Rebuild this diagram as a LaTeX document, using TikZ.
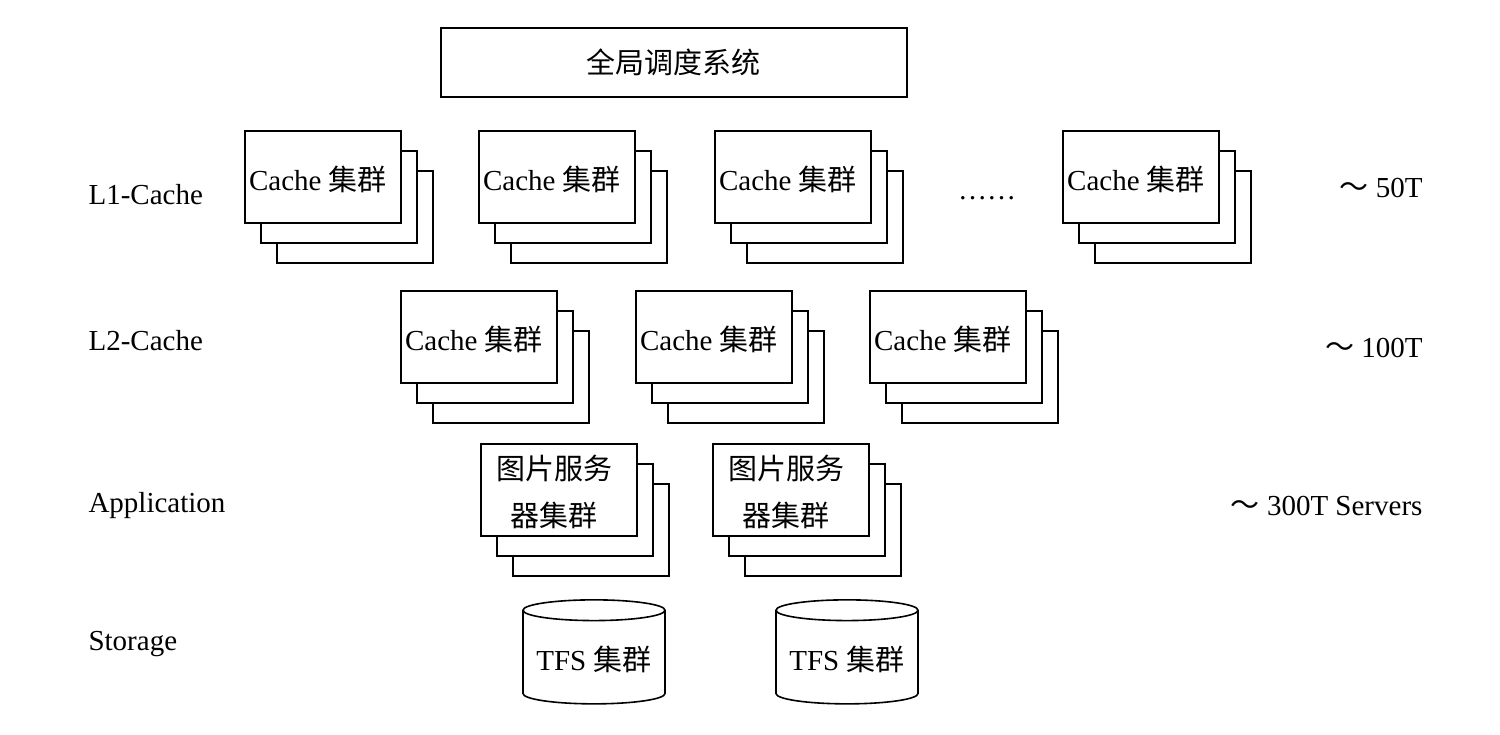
\documentclass[tikz,border=0pt]{standalone}
\usepackage{fontspec}
\setmainfont{Liberation Serif}
\newfontfamily\cjk{Noto Sans CJK SC}
\usetikzlibrary{shapes.geometric}
\begin{document}
\begin{tikzpicture}[x=1pt,y=-1pt,
  bx/.style={draw,line width=1.6pt,fill=white,minimum width=156pt,minimum height=92pt,anchor=north west,inner sep=0pt},
  lbl/.style={font=\fontsize{29}{32}\selectfont,anchor=west},
  rl/.style={font=\fontsize{29}{32}\selectfont,anchor=east},
  txt/.style={font=\fontsize{29}{47}\selectfont,align=center},
  cyl/.style={draw,line width=1.6pt,cylinder,shape border rotate=90,aspect=0.17,minimum width=142pt,minimum height=104pt,font=\fontsize{29}{32}\selectfont}]
\useasboundingbox (0,0) rectangle (1500,734);
\newcommand{\stk}[4]{% name, x, y, text
  \node[bx] (#1c) at (#2+32,#3+40) {};
  \node[bx] (#1b) at (#2+16,#3+20) {};
  \node[bx] (#1) at (#2,#3) {};
  \node[txt,anchor=center] (#1t) at (#2+74,#3+49) {#4};}
\node[draw,line width=1.6pt,minimum width=466pt,minimum height=69pt,anchor=north west,font=\fontsize{29}{32}\selectfont\cjk] (top) at (440,27) {全局调度系统};
\stk{a1}{244}{130}{Cache {\cjk 集群}}
\stk{a2}{478}{130}{Cache {\cjk 集群}}
\stk{a3}{714}{130}{Cache {\cjk 集群}}
\stk{a4}{1062}{130}{Cache {\cjk 集群}}
\node[font=\fontsize{29}{32}\selectfont] (dots) at (987,198) {……};
\stk{b1}{400}{290}{Cache {\cjk 集群}}
\stk{b2}{635}{290}{Cache {\cjk 集群}}
\stk{b3}{869}{290}{Cache {\cjk 集群}}
\stk{c1}{480}{443}{{\cjk 图片服务}\\{\cjk 器集群}}
\stk{c2}{712}{443}{{\cjk 图片服务}\\{\cjk 器集群}}
\node[cyl] (d1) at (594,659) {TFS {\cjk 集群}};
\node[cyl] (d2) at (847,659) {TFS {\cjk 集群}};
\node[lbl] (l1) at (85,195) {L1-Cache};
\node[lbl] (l2) at (85,341) {L2-Cache};
\node[lbl] (l3) at (85,506) {Application};
\node[lbl] (l4) at (85,644) {Storage};
\node[rl] (r1) at (1426,188) {{\cjk ～} 50T};
\node[rl] (r2) at (1426,348) {{\cjk ～} 100T};
\node[rl] (r3) at (1426,506) {{\cjk ～} 300T Servers};
\end{tikzpicture}
\end{document}
